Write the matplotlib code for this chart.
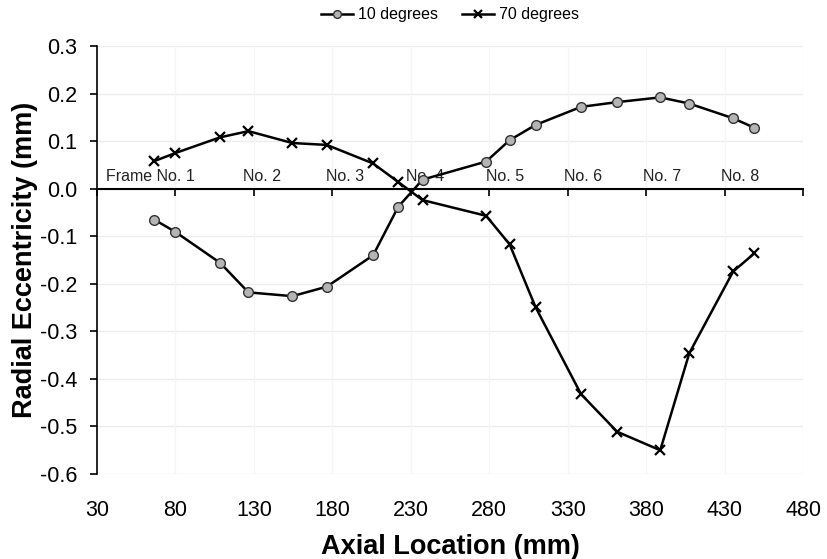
import matplotlib
matplotlib.use("Agg")
import matplotlib.pyplot as plt

plt.rcParams['font.family'] = ['Liberation Sans', 'DejaVu Sans']

x_mm = [66.5, 80, 108.5, 126.5, 154.5, 176.5, 206, 222, 237.5, 278, 293, 309.5, 338.5, 361.5, 389, 407.5, 435.5, 449]
ecc_10 = [-0.065, -0.091, -0.156, -0.218, -0.226, -0.206, -0.140, -0.038, 0.019, 0.057, 0.102, 0.134, 0.172, 0.182, 0.192, 0.179, 0.148, 0.128]
ecc_70 = [0.058, 0.075, 0.108, 0.121, 0.096, 0.092, 0.053, 0.014, -0.024, -0.057, -0.117, -0.249, -0.432, -0.511, -0.550, -0.346, -0.174, -0.136]

frame_labels = ["Frame No. 1", "No. 2", "No. 3", "No. 4", "No. 5", "No. 6", "No. 7", "No. 8"]
frame_x = [64, 135, 188, 239, 290, 340, 390, 440]
frame_y = 0.025

x_ticks = [30, 80, 130, 180, 230, 280, 330, 380, 430, 480]
y_ticks = [-0.6, -0.5, -0.4, -0.3, -0.2, -0.1, 0.0, 0.1, 0.2, 0.3]

fig = plt.figure(figsize=(8.27, 5.59), dpi=100)
ax = fig.add_axes([0.1173, 0.152, 0.8537, 0.7657])

ax.set_xlim(30, 480)
ax.set_ylim(-0.6, 0.3)

for y in y_ticks:
    ax.axhline(y, color='#ececec', lw=1.0, zorder=0)
for x in x_ticks[1:]:
    ax.axvline(x, color='#f5f5f5', lw=1.0, zorder=0)

ax.plot(x_mm, ecc_10, '-o', color='black', lw=1.8, ms=7, mfc='#b4b4b4', mec='#333333',
        mew=1.0, label='10 degrees', zorder=3)
ax.plot(x_mm, ecc_70, '-x', color='black', lw=1.8, ms=7, mew=1.6, label='70 degrees', zorder=3)

for lbl, fx in zip(frame_labels, frame_x):
    ax.text(fx, frame_y, lbl, ha='center', va='center', fontsize=11.5, color='#222222', zorder=2)

ax.spines['top'].set_visible(False)
ax.spines['right'].set_visible(False)
ax.spines['bottom'].set_position(('data', 0))
ax.spines['bottom'].set_linewidth(1.5)
ax.spines['left'].set_linewidth(1.2)

ax.set_xticks(x_ticks)
ax.set_xticklabels([])
ax.tick_params(axis='x', direction='out', length=5, width=1.2)
ax.set_yticks(y_ticks)
ax.set_yticklabels([f"{v:.1f}" for v in y_ticks], fontsize=15.5)
ax.tick_params(axis='y', direction='out', length=5, width=1.2, pad=9)

sec = ax.secondary_xaxis('bottom')
sec.spines['bottom'].set_visible(False)
sec.set_xticks(x_ticks)
sec.set_xticklabels([str(v) for v in x_ticks], fontsize=15.5)
sec.tick_params(axis='x', length=0, pad=19)
sec.set_xlabel('Axial Location (mm)', fontsize=19.5, fontweight='bold', labelpad=9)

ax.set_ylabel('Radial Eccentricity (mm)', fontsize=19.5, fontweight='bold')
ax.yaxis.set_label_coords(-0.083, 0.5)

leg = ax.legend(loc='lower center', bbox_to_anchor=(0.5, 1.04), ncol=2, frameon=False,
                fontsize=11.5, handlelength=2.0, handletextpad=0.3, columnspacing=1.5,
                borderaxespad=0, markerscale=0.8)

fig.savefig('out.png', dpi=100)
